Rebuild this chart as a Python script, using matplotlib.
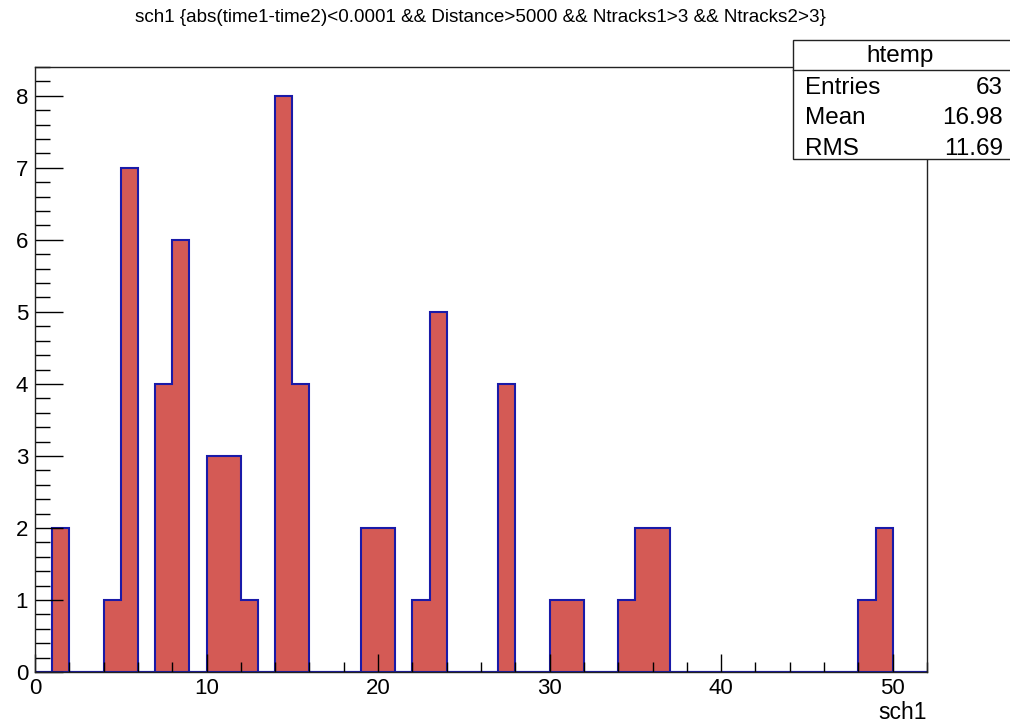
import numpy as np
import matplotlib
matplotlib.use("Agg")
import matplotlib.pyplot as plt
from matplotlib.ticker import MultipleLocator
from matplotlib.patches import Rectangle

plt.rcParams["font.family"] = ["Liberation Sans", "DejaVu Sans"]

# ---------------- data ----------------
# integer sch1 values (bin low edges) and their entry counts
sch1_values = [1, 4, 5, 7, 8, 10, 11, 12, 14, 15, 19, 20, 22, 23, 27,
               30, 31, 34, 35, 36, 48, 49]
sch1_counts = [2, 1, 7, 4, 6, 3, 3, 1, 8, 4, 2, 2, 1, 5, 4,
               1, 1, 1, 2, 2, 1, 2]
bin_edges = np.arange(0, 53, 1)

title = "sch1 {abs(time1-time2)<0.0001 && Distance>5000 && Ntracks1>3 && Ntracks2>3}"
stats_name = "htemp"
stats_labels = ["Entries", "Mean", "RMS"]
stats_values = ["63", "16.98", "11.69"]

# ---------------- plot ----------------
fig = plt.figure(figsize=(10.10, 7.25), dpi=100)
ax = fig.add_axes([35/1010, 1 - 672/725, (927-35)/1010, (672-67)/725])

ax.hist(sch1_values, bins=bin_edges, weights=sch1_counts,
        histtype="stepfilled", facecolor="#d45a55",
        edgecolor="#1a1aa8", linewidth=1.5)

ax.set_xlim(0, 52)
ax.set_ylim(0, 8.4)

ax.xaxis.set_major_locator(MultipleLocator(10))
ax.xaxis.set_minor_locator(MultipleLocator(2))
ax.yaxis.set_major_locator(MultipleLocator(1))
ax.yaxis.set_minor_locator(MultipleLocator(0.2))

ax.tick_params(axis="x", which="major", direction="in", length=13, width=1,
               labelsize=16, pad=4, top=False)
ax.tick_params(axis="x", which="minor", direction="in", length=7, width=1, top=False)
ax.tick_params(axis="y", which="major", direction="in", length=20, width=1,
               labelsize=16, pad=5, right=False)
ax.tick_params(axis="y", which="minor", direction="in", length=11, width=1, right=False)

for s in ax.spines.values():
    s.set_linewidth(1.0)
    s.set_color("#222222")

ax.set_xlabel("sch1", fontsize=16.5, loc="right", labelpad=2)

fig.text(480/1010, 1 - 17/725, title, ha="center", va="center", fontsize=13.6)

# ---------------- stats box ----------------
bx0, bx1 = 793/1010, 1.05
by0, by1 = 1 - 159/725, 1 - 40/725
fig.patches.append(Rectangle((bx0, by0), bx1 - bx0, by1 - by0,
                             transform=fig.transFigure, facecolor="white",
                             edgecolor="#222222", linewidth=1.0, zorder=5))
fig.add_artist(plt.Line2D([bx0, 1.0], [1 - 70/725] * 2, transform=fig.transFigure,
                          color="#222222", linewidth=1.0, zorder=6))
fig.text((bx0 + 1007/1010) / 2, 1 - 56/725, stats_name, ha="center", va="center",
         fontsize=17.5, zorder=7)
for i, (lab, val) in enumerate(zip(stats_labels, stats_values)):
    y = 1 - (88 + 30.5 * i) / 725
    fig.text(805/1010, y, lab, ha="left", va="center", fontsize=17.5, zorder=7)
    fig.text(1003/1010, y, val, ha="right", va="center", fontsize=17.5, zorder=7)

fig.savefig("out.png", dpi=100)
